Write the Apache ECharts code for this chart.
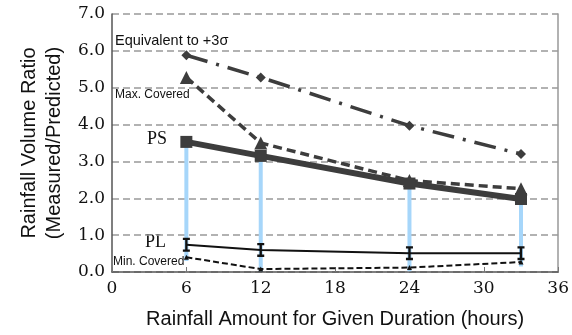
<!DOCTYPE html>
<html>
<head>
<meta charset="utf-8">
<script src="https://cdn.jsdelivr.net/npm/echarts@6/dist/echarts.min.js"></script>
<style>html,body{margin:0;padding:0;background:#fff}#c{width:572px;height:335px}</style>
</head>
<body>
<div id="c"></div>
<script>
const durations = [6, 12, 24, 33];
const equivalent3Sigma = [5.88, 5.28, 3.97, 3.2];
const maxCovered = [5.28, 3.5, 2.48, 2.26];
const psValues = [3.53, 3.15, 2.4, 1.98];
const plValues = [0.74, 0.6, 0.51, 0.51];
const minCovered = [0.4, 0.08, 0.12, 0.27];
const rangeLow = [0.3, 0.02, 0.02, 0.15];
const rangeHigh = [3.5, 3.1, 2.3, 1.9];
const xTicks = [0, 6, 12, 18, 24, 30, 36];
const yTicks = [0, 1, 2, 3, 4, 5, 6, 7];

const pairs = v => durations.map((d, i) => [d, v[i]]);
const dark = '#3d3d3d';
const serif = 'DejaVu Serif';
const sans = 'Liberation Sans';

const rangeSeries = durations.map((d, i) => ({
  type: 'line', silent: true, symbol: 'none', z: 1,
  data: [[d, rangeLow[i]], [d, rangeHigh[i]]],
  lineStyle: { color: '#a6d6fa', width: 4 }
}));

const chart = echarts.init(document.getElementById('c'), null, { renderer: 'canvas' });
chart.setOption({
  animation: false,
  grid: { left: 112, right: 9, top: 14, bottom: 63, containLabel: false },
  xAxis: {
    type: 'value', min: xTicks[0], max: xTicks[xTicks.length - 1], interval: 6,
    name: 'Rainfall Amount for Given Duration (hours)', nameLocation: 'middle', nameGap: 37,
    nameTextStyle: { fontFamily: sans, fontSize: 20, color: '#111' },
    axisLine: { lineStyle: { color: '#555', width: 1.5 } },
    axisTick: { inside: true, length: 5, lineStyle: { color: '#777' } },
    axisLabel: { fontFamily: serif, fontSize: 17, color: '#111', margin: 8 },
    splitLine: { show: false }
  },
  yAxis: [{
    type: 'value', min: yTicks[0], max: yTicks[yTicks.length - 1], interval: 1,
    name: 'Rainfall Volume Ratio\n(Measured/Predicted)', nameLocation: 'middle', nameGap: 41,
    nameTextStyle: { fontFamily: sans, fontSize: 20, color: '#111', lineHeight: 25 },
    axisLine: { show: true, lineStyle: { color: '#555', width: 1.5 } },
    axisTick: { show: false },
    axisLabel: { fontFamily: serif, fontSize: 17, color: '#111', margin: 7, formatter: v => v.toFixed(1) },
    splitLine: { show: true, lineStyle: { color: '#999', width: 1.5, type: [7, 4] } }
  }, {
    type: 'value', position: 'right', min: 0, max: 7, interval: 1,
    axisLine: { show: true, lineStyle: { color: '#999', width: 1.5 } },
    axisTick: { show: false }, axisLabel: { show: false }, splitLine: { show: false }
  }],
  series: rangeSeries.concat([
    {
      type: 'line', data: pairs(equivalent3Sigma), z: 3,
      symbol: 'diamond', symbolSize: 10,
      itemStyle: { color: dark },
      lineStyle: { color: dark, width: 3.5, type: [22, 9, 3, 9] }
    },
    {
      type: 'line', data: pairs(maxCovered), z: 3,
      symbol: 'triangle', symbolSize: 13,
      itemStyle: { color: dark },
      lineStyle: { color: dark, width: 3.5, type: [9, 5] }
    },
    {
      type: 'line', data: pairs(psValues), z: 4,
      symbol: 'rect', symbolSize: 12,
      itemStyle: { color: dark },
      lineStyle: { color: dark, width: 6 }
    },
    {
      type: 'line', data: pairs(plValues), z: 4,
      symbol: 'path://M0,0H6V2H4V10H6V12H0V10H2V2H0Z', symbolSize: [7, 14],
      itemStyle: { color: '#111' },
      lineStyle: { color: '#111', width: 2 }
    },
    {
      type: 'line', data: pairs(minCovered), z: 4,
      symbol: 'triangle', symbolSize: 5,
      itemStyle: { color: '#111' },
      lineStyle: { color: '#111', width: 2, type: [6, 3] }
    }
  ]),
  graphic: [
    { type: 'text', left: 115, top: 33, style: { text: 'Equivalent to +3σ', font: '14.5px "Liberation Sans"', fill: '#111' } },
    { type: 'text', left: 115, top: 89, style: { text: 'Max. Covered', font: '12px "Liberation Sans"', fill: '#111' } },
    { type: 'text', left: 147, top: 130, style: { text: 'PS', font: '18px "Liberation Serif"', fill: '#111' } },
    { type: 'text', left: 145, top: 233, style: { text: 'PL', font: '18px "Liberation Serif"', fill: '#111' } },
    { type: 'text', left: 113, top: 256, style: { text: 'Min. Covered', font: '12px "Liberation Sans"', fill: '#111' } }
  ]
});
</script>
</body>
</html>
